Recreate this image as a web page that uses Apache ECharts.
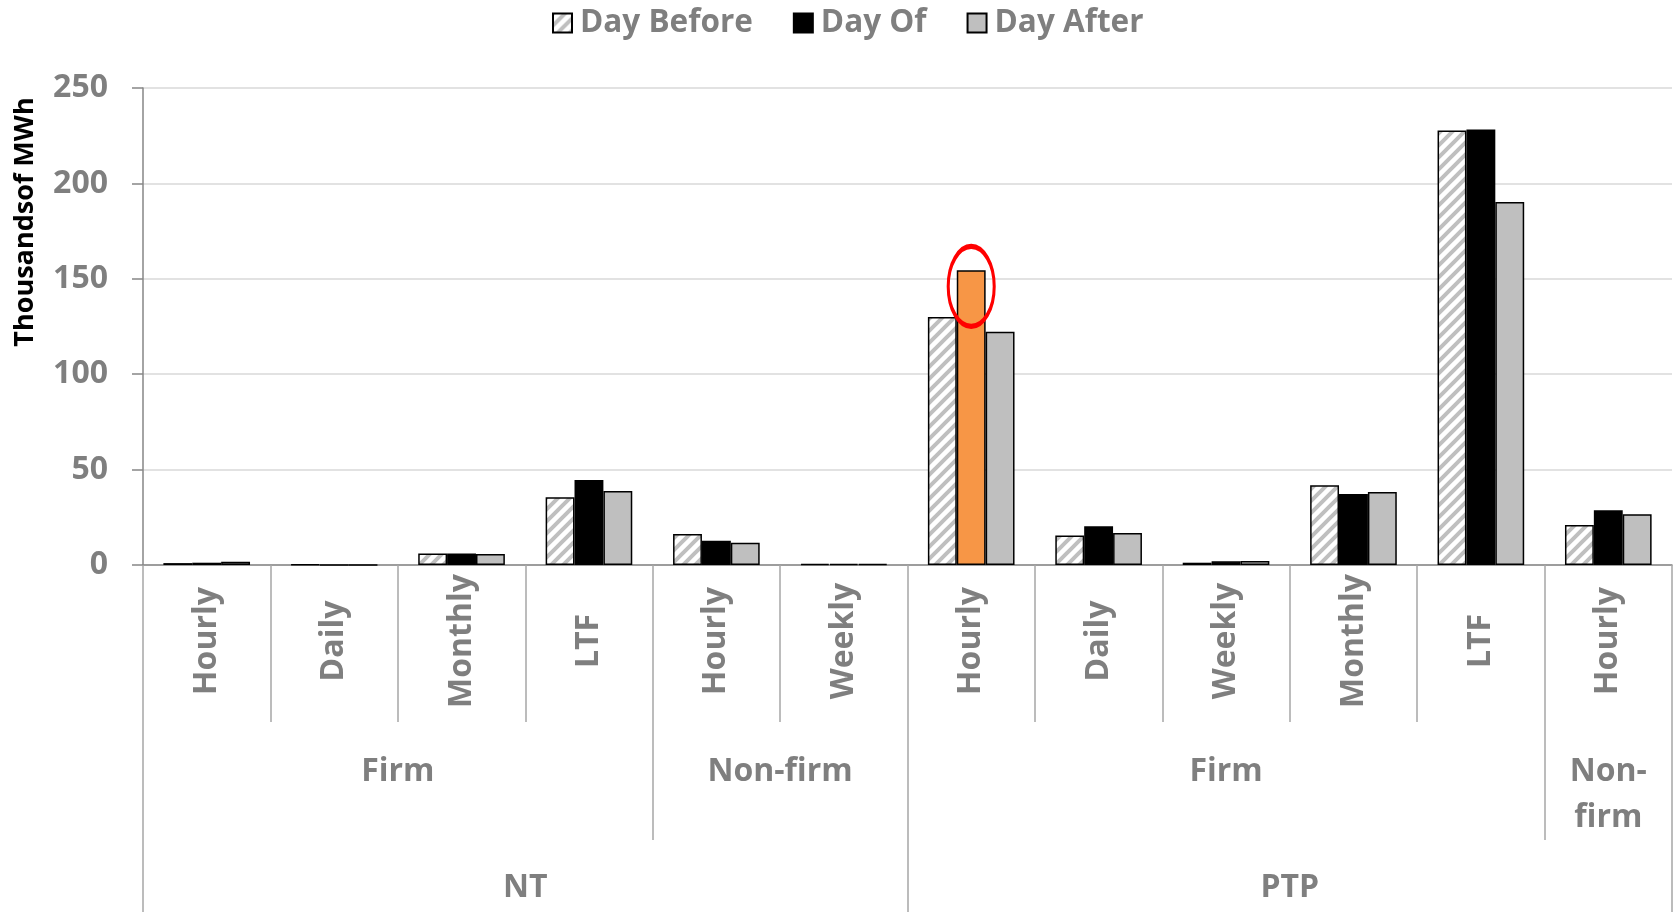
<!DOCTYPE html>
<html>
<head>
<meta charset="utf-8">
<script src="https://cdn.jsdelivr.net/npm/echarts@6/dist/echarts.min.js"></script>
<style>html,body{margin:0;padding:0;background:#fff}#c{width:1675px;height:912px}</style>
</head>
<body>
<div id="c"></div>
<script>
// ---- data ----
const categories = ['Hourly','Daily','Monthly','LTF','Hourly','Weekly','Hourly','Daily','Weekly','Monthly','LTF','Hourly'];
const level2Labels = ['Firm','Non-firm','Firm','Non-\nfirm'];
const level2Centers = [2, 5, 8.5, 11.5];
const level2Bounds = [0, 4, 6, 11, 12];
const level3Labels = ['NT','PTP'];
const level3Centers = [3, 9];
const level3Bounds = [0, 6, 12];
const dayBefore = [1.0, 0.3, 6.0, 35.5, 16.3, 0.6, 130, 15.4, 1.2, 41.8, 227.7, 21.0];
const dayOf     = [1.2, 0,   6.0, 44.5, 12.7, 0.6, 154.5, 20.3, 1.9, 37.2, 228.2, 28.7];
const dayAfter  = [1.7, 0,   5.8, 38.8, 11.7, 0.4, 122.2, 16.8, 2.1, 38.3, 190.3, 26.6];
const yTicks = [0, 50, 100, 150, 200, 250];
const highlightIndex = 6;
const highlightCenterValue = 146;

const GRAY = '#7F7F7F';
const FONT = 'Open Sans';

// hatch pattern
const pc = document.createElement('canvas');
pc.width = 12; pc.height = 12;
const g = pc.getContext('2d');
g.fillStyle = '#fff'; g.fillRect(0,0,12,12);
g.strokeStyle = '#BFBFBF'; g.lineWidth = 4;
g.beginPath();
g.moveTo(-3, 15); g.lineTo(15, -3);
g.moveTo(-9, 9); g.lineTo(9, -9);
g.moveTo(3, 21); g.lineTo(21, 3);
g.stroke();

const chart = echarts.init(document.getElementById('c'));
const labelStyle = {color: GRAY, fontFamily: FONT, fontWeight: 'bold', fontSize: 32};

chart.setOption({
  animation: false,
  legend: {
    top: 2, left: 547,
    itemWidth: 19, itemHeight: 19, itemGap: 40,
    icon: 'rect',
    textStyle: {color: GRAY, fontFamily: FONT, fontWeight: 'bold', fontSize: 31.5, padding: [0,0,0,3]},
    data: ['Day Before','Day Of','Day After']
  },
  grid: {left: 143, right: 3, top: 88, bottom: 347, containLabel: false},
  xAxis: [
    {
      type: 'category',
      data: categories.map((c, i) => String(i)),
      axisLine: {show: true, lineStyle: {color: '#868686', width: 1.5}},
      axisTick: {show: true, interval: 0, length: 157, lineStyle: {color: '#A6A6A6', width: 1.5}},
      axisLabel: Object.assign({
        interval: 0, rotate: 90, margin: 76, align: 'center', verticalAlign: 'middle',
        formatter: (v, i) => categories[+v]
      }, labelStyle),
      splitLine: {show: false}
    },
    {
      type: 'value', min: 0, max: 12, position: 'bottom',
      axisLine: {show: false},
      splitLine: {show: false},
      axisTick: {show: true, customValues: level2Bounds, length: 275, lineStyle: {color: '#A6A6A6', width: 1.5}},
      axisLabel: Object.assign({
        customValues: level2Centers, margin: 184, verticalAlign: 'top', lineHeight: 46,
        formatter: v => level2Labels[level2Centers.indexOf(v)]
      }, labelStyle)
    },
    {
      type: 'value', min: 0, max: 12, position: 'bottom',
      axisLine: {show: false},
      splitLine: {show: false},
      axisTick: {show: true, customValues: level3Bounds, length: 360, lineStyle: {color: '#A6A6A6', width: 1.5}},
      axisLabel: Object.assign({
        customValues: level3Centers, margin: 300, verticalAlign: 'top', lineHeight: 46,
        formatter: v => level3Labels[level3Centers.indexOf(v)]
      }, labelStyle)
    }
  ],
  yAxis: {
    type: 'value', min: yTicks[0], max: yTicks[yTicks.length-1], interval: 50,
    axisLine: {show: true, lineStyle: {color: '#868686', width: 1.5}},
    axisTick: {show: true, length: 11, lineStyle: {color: '#868686', width: 1.5}},
    axisLabel: Object.assign({margin: 35}, labelStyle),
    splitLine: {show: true, lineStyle: {color: '#D9D9D9', width: 1.5}}
  },
  graphic: [{
    type: 'text', x: 25, y: 222, rotation: Math.PI/2,
    style: {text: 'Thousandsof MWh', fill: '#000', font: 'bold 27px "Open Sans"', align: 'center', verticalAlign: 'middle'}
  }],
  series: [
    {
      name: 'Day Before', type: 'bar', xAxisIndex: 0, data: dayBefore,
      barGap: '0%', barCategoryGap: '32%',
      itemStyle: {color: {image: pc, repeat: 'repeat'}, borderColor: '#000', borderWidth: 1.5}
    },
    {
      name: 'Day Of', type: 'bar', xAxisIndex: 0,
      data: dayOf.map((v, i) => i === highlightIndex ? {value: v, itemStyle: {color: '#F79646'}} : v),
      itemStyle: {color: '#000', borderColor: '#000', borderWidth: 1.5},
      markPoint: {
        symbol: 'circle', symbolSize: [46, 80],
        itemStyle: {color: 'rgba(0,0,0,0)', borderColor: '#FF0000', borderWidth: 4},
        label: {show: false},
        data: [{coord: [highlightIndex, highlightCenterValue]}]
      }
    },
    {
      name: 'Day After', type: 'bar', xAxisIndex: 0, data: dayAfter,
      itemStyle: {color: '#BFBFBF', borderColor: '#000', borderWidth: 1.5}
    }
  ]
});
</script>
</body>
</html>
